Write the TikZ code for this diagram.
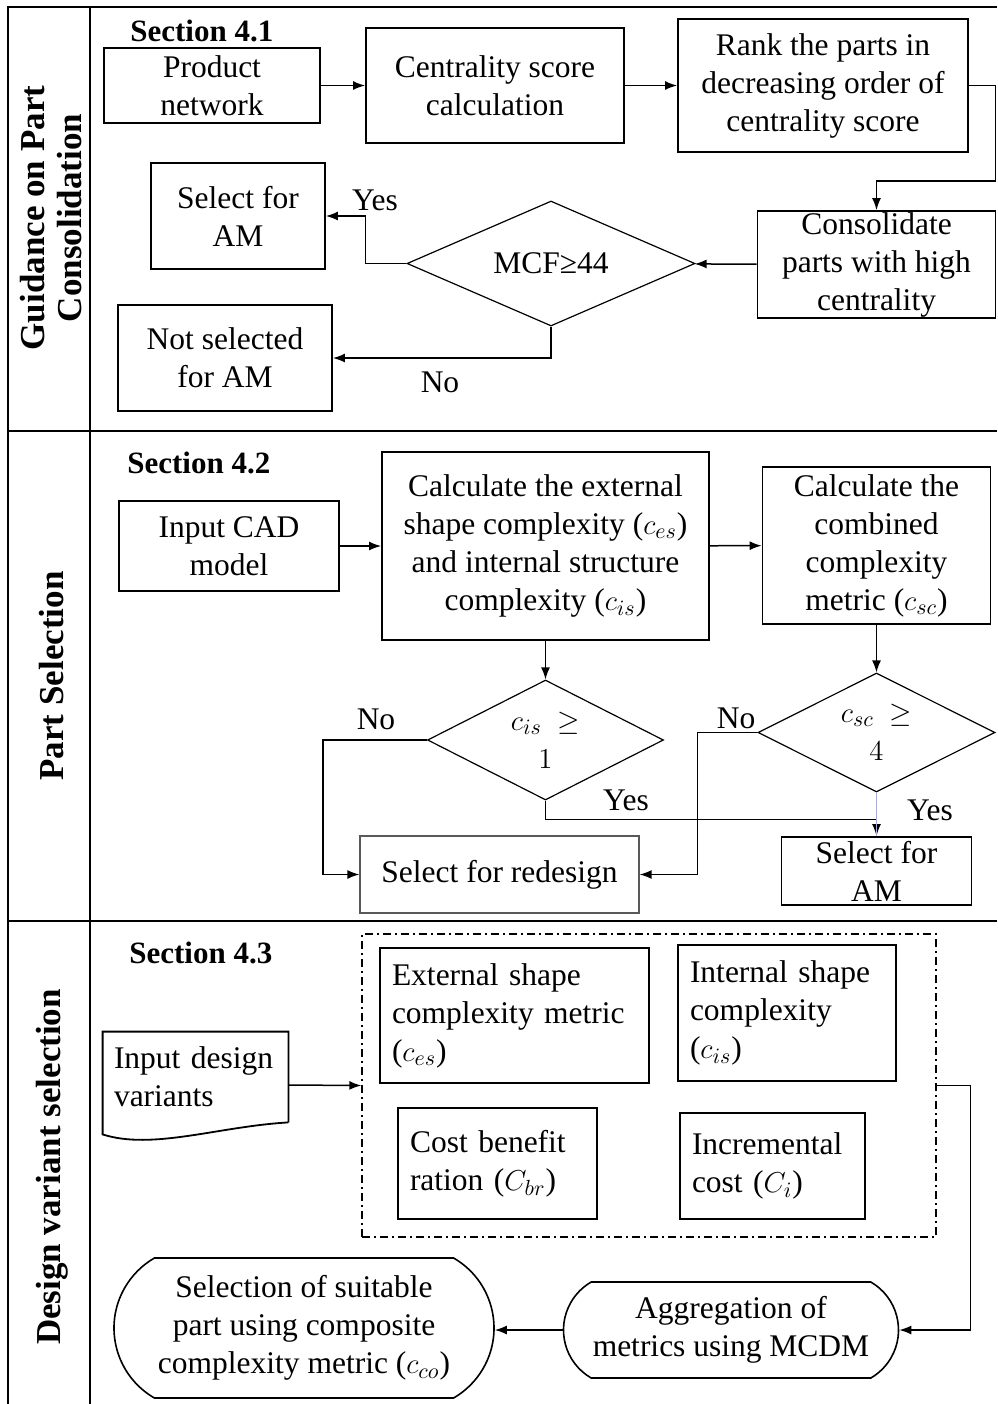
\documentclass[tikz,border=0pt]{standalone}
\usepackage{fontspec}
\setmainfont{Liberation Serif}
\usetikzlibrary{positioning,shapes.geometric,shapes.misc,arrows.meta}

\begin{document}
\begin{tikzpicture}[x=0.5pt, y=-0.5pt,
    font=\fontsize{15.75}{19}\selectfont,
    box/.style={draw, line width=0.9pt, align=center, inner xsep=2pt, inner ysep=0pt},
    metric/.style={draw, line width=0.9pt, align=left, inner xsep=6pt, inner ysep=0pt},
    decide/.style={draw, diamond, line width=0.6pt, aspect=2, inner sep=1pt, align=center},
    term/.style={draw, rounded rectangle, rounded rectangle arc length=120, line width=0.8pt, align=center, inner sep=0pt},
    lanetitle/.style={rotate=90, align=center, font=\fontsize{17.5}{18.5}\selectfont\bfseries},
    sectitle/.style={anchor=west, inner sep=0pt, font=\fontsize{15.5}{19}\selectfont\bfseries},
    flow/.style={-{Latex[length=6pt,width=4.5pt]}, line width=0.75pt},
    frame/.style={line width=1pt}]
    \useasboundingbox (0,0) rectangle (997,1404);
    \fill[white] (0,0) rectangle (997,1404);

    \draw[frame] (997,7) -- (8,7) -- (8,1404);
    \draw[frame] (90,7) -- (90,1404);
    \draw[frame] (8,431) -- (997,431);
    \draw[frame] (8,921) -- (997,921);

    \node[lanetitle] (lane1) at (51.5,218) {Guidance on Part\\Consolidation};
    \node[lanetitle] (lane2) at (52,676) {Part Selection};
    \node[lanetitle] (lane3) at (52,1167) {Design variant selection};

    % Section 4.1
    \node[sectitle] (sec1) at (130,31) {Section 4.1};
    \node[box, minimum width=108pt, minimum height=37.5pt] (prod) at (212,85.5) {Product\\network};
    \node[box, minimum width=129pt, minimum height=57.5pt] (cent) at (495,85.5) {Centrality score\\calculation};
    \node[box, minimum width=145pt, minimum height=66.5pt] (rank) at (823,85.5) {Rank the parts in\\decreasing order of\\centrality score};
    \node[box, minimum width=119pt, minimum height=53.5pt] (cons) at (876.5,264.5) {Consolidate\\parts with high\\centrality};
    \node[decide, aspect=2.3, minimum width=144pt, minimum height=62.5pt] (mcf) at (551,263.5) {MCF≥44};
    \node[box, minimum width=87pt, minimum height=53pt] (selam) at (238,216) {Select for\\AM};
    \node[box, minimum width=107pt, minimum height=53pt] (notsel) at (225,358) {Not selected\\for AM};
    \node (yes1) at (375,200) {Yes};
    \node (no1) at (440,382) {No};
    \coordinate (turn) at (995.5,181);

    \draw[flow] (prod) -- (cent);
    \draw[flow] (cent) -- (rank);
    \draw[flow] (rank.east) -| (turn) -| (cons.north);
    \draw[flow] (cons) -- (mcf);
    \draw[flow] (mcf.west) -- ++(-41,0) |- (selam.east);
    \draw[flow] (mcf.south) |- (notsel.east);

    % Section 4.2
    \node[sectitle] (sec2) at (127,463) {Section 4.2};
    \node[box, minimum width=110pt, minimum height=45pt] (cad) at (229,546) {Input CAD\\model};
    \node[box, minimum width=163.5pt, minimum height=94pt] (calc) at (545.5,546) {Calculate the external\\shape complexity ($c_{es}$)\\and internal structure\\complexity ($c_{is}$)};
    \node[box, minimum width=114pt, minimum height=78.5pt] (comb) at (876.5,545.5) {Calculate the\\combined\\complexity\\metric ($c_{sc}$)};
    \node[decide, minimum width=118pt, minimum height=60pt] (dis) at (545.5,740) {$c_{is}\ \geq$\\$1$};
    \node[decide, minimum width=118.5pt, minimum height=59.5pt] (dsc) at (876.5,732.5) {$c_{sc}\ \geq$\\$4$};
    \node[box, draw=black!65, line width=0.6pt, minimum width=139.5pt, minimum height=38.5pt] (redes) at (499.5,874.5) {Select for redesign};
    \node[box, minimum width=95pt, minimum height=34pt] (selam2) at (876.5,871) {Select for\\AM};
    \node (no2) at (376,719) {No};
    \node (yes2) at (626,800) {Yes};
    \node (no3) at (736,718) {No};
    \node (yes3) at (930,810) {Yes};

    \draw[flow] (cad) -- (calc);
    \draw[flow] (calc) -- (comb);
    \draw[flow] (calc.south) -- (dis.north);
    \draw[flow] (comb.south) -- (dsc.north);
    \draw[flow] (dis.west) -- ++(-104,0) |- (redes.west);
    \draw[flow] (dsc.west) -- ++(-60,0) |- (redes.east);
    \draw[flow] (dis.south) -- ++(0,19) -| (selam2.north);
    \draw[blue!35, line width=0.5pt] (dsc.south) -- (selam2.north);

    % Section 4.3
    \node[sectitle] (sec3) at (129,953) {Section 4.3};
    \node[draw, line width=0.7pt, dash pattern=on 4pt off 2pt on 1pt off 2pt, minimum width=287pt, minimum height=151.5pt] (grp) at (649,1085.5) {};
    \node[metric, text width=122.5pt, minimum height=67.5pt] (ext) at (514.5,1015.5) {External shape\\complexity metric\\($c_{es}$)};
    \node[metric, text width=97pt, minimum height=68pt] (int) at (787,1013) {Internal shape\\complexity\\($c_{is}$)};
    \node[metric, text width=87.5pt, minimum height=55.5pt] (cbr) at (497.5,1163.5) {Cost benefit\\ration ($C_{br}$)};
    \node[metric, text width=80.5pt, minimum height=53pt] (inc) at (772.5,1166) {Incremental\\cost ($C_{i}$)};
    \node[align=left, inner xsep=5.5pt, text width=81.5pt, minimum height=45pt] (inp) at (195.5,1077) {Input design\\variants};
    \draw[line width=0.9pt] (inp.south east) -- (inp.north east) -- (inp.north west) -- ([yshift=-6pt]inp.south west)
        .. controls +(25pt,-8pt) and +(-35pt,-2pt) .. (inp.south east);
    \node[term, minimum width=167.5pt, minimum height=48pt] (agg) at (731,1330) {Aggregation of\\metrics using MCDM};
    \node[term, minimum width=190pt, minimum height=70pt] (sel) at (304,1328) {Selection of suitable\\part using composite\\complexity metric ($c_{co}$)};

    \draw[flow] ([yshift=-4pt]inp.east) -- (grp.west);
    \draw[flow] (grp.east) -- ++(34,0) |- (agg.east);
    \draw[flow] (agg.west) -- (agg.west -| sel.east);
\end{tikzpicture}
\end{document}
